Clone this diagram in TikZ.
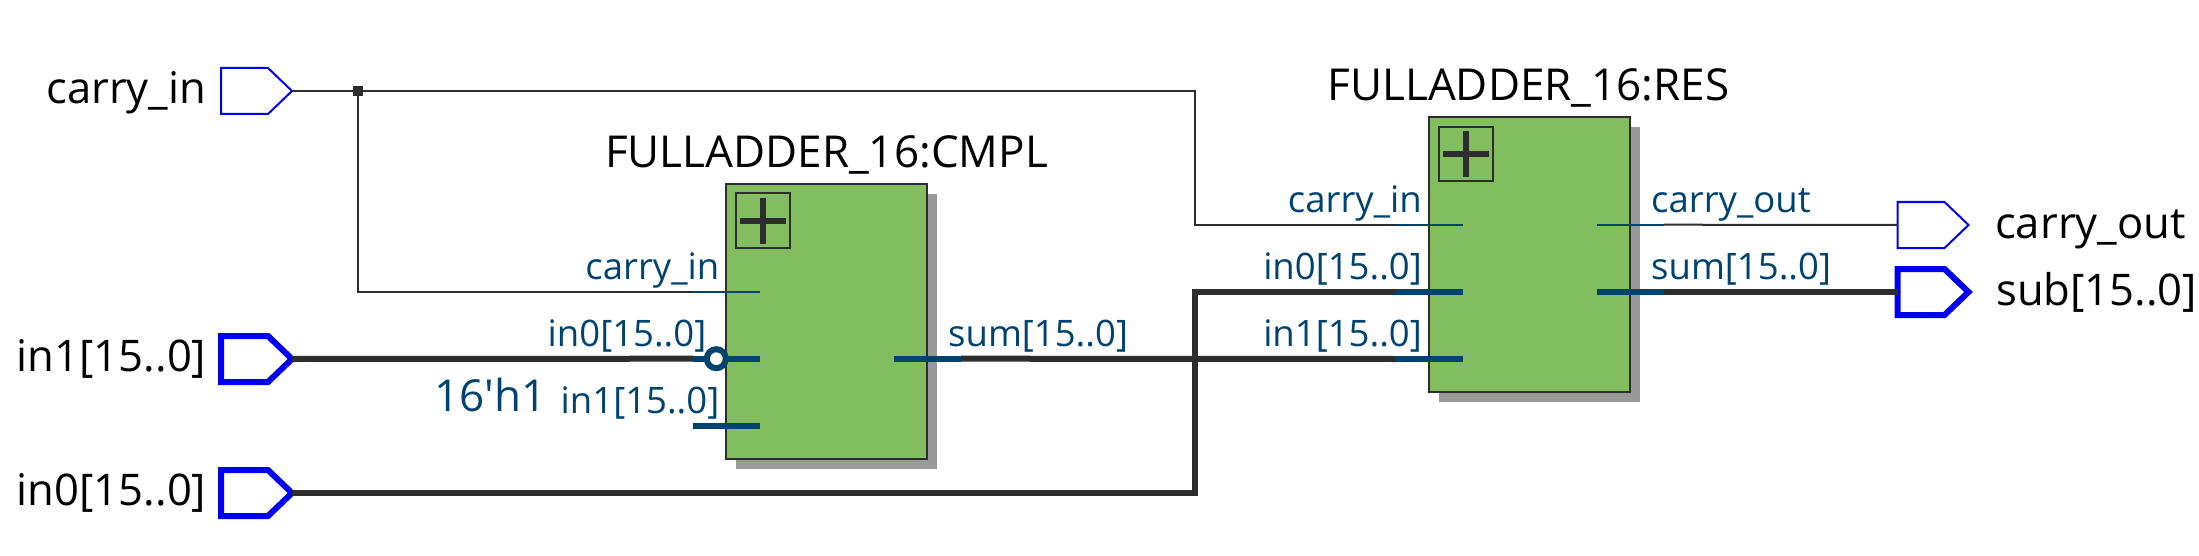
\documentclass[tikz,border=0pt]{standalone}
\usepackage{fontspec}
\setmainfont{Open Sans}
\newfontfamily\constf{Open Sans}
\definecolor{wire}{HTML}{2D2D2D}
\definecolor{pinc}{HTML}{004370}
\definecolor{blockg}{HTML}{82BE60}
\definecolor{shad}{HTML}{999999}
\definecolor{portb}{HTML}{0000F0}
\newcommand{\portshape}[4]{% name, x, y, style
  \draw[#4] (#2,#3-23) -- (#2+47,#3-23) -- (#2+71,#3) -- (#2+47,#3+23) -- (#2,#3+23) -- cycle;
  \coordinate (#1L) at (#2,#3);
  \coordinate (#1R) at (#2+71,#3);
}
\newcommand{\blockshape}[5]{% name, left, top, right, bottom
  \fill[shad] (#2+10,#3+10) rectangle (#4+10,#5+10);
  \node[blockbox,minimum width=#4-#2,minimum height=#5-#3,anchor=north west] (#1) at (#2,#3) {};
  \draw[wire,line width=2pt,fill=none] (#2+9.7,#3+9.7) rectangle (#2+64.3,#3+64.3);
  \fill[wire] (#2+14,#3+34) rectangle (#2+60,#3+40);
  \fill[wire] (#2+34,#3+14) rectangle (#2+40,#3+60);
}
\tikzset{
  x=1pt,y=-1pt,
  blockbox/.style={draw=wire,fill=blockg,line width=2pt,inner sep=0pt,outer sep=0pt},
  thinport/.style={draw=portb,line width=2pt,fill=white,line join=miter},
  busport/.style={draw=portb,line width=6pt,fill=white,line join=miter},
  thinwire/.style={draw=wire,line width=2pt},
  buswire/.style={draw=wire,line width=6pt},
  thinpin/.style={draw=pinc,line width=2pt},
  buspin/.style={draw=pinc,line width=6pt},
  extlabel/.style={font=\fontsize{43.6}{46}\selectfont,text=black,inner sep=0pt},
  titlelabel/.style={font=\fontsize{44}{46}\selectfont,text=black,inner sep=0pt,anchor=base west},
  pinlabel/.style={font=\fontsize{36.5}{40}\selectfont,text=pinc,inner sep=0pt},
  constlabel/.style={font=\constf\fontsize{44}{48}\selectfont,text=pinc,inner sep=0pt,anchor=base west},
}
\begin{document}
\begin{tikzpicture}
\useasboundingbox (0,0) rectangle (2199,556);
% ports
\portshape{pci}{221}{91}{thinport}
\portshape{pa}{221}{359}{busport}
\portshape{pb}{221}{493}{busport}
\portshape{pco}{1897.5}{225}{thinport}
\portshape{ps}{1897.5}{292}{busport}
% points
\coordinate (jn) at (358,91);
\coordinate (jt) at (1195,91);
\coordinate (cCi) at (693.3,291.7);
\coordinate (cCiE) at (760,291.7);
\coordinate (cA) at (693.3,358.7);
\coordinate (cAE) at (760,358.7);
\coordinate (cB) at (693.3,425.7);
\coordinate (cBE) at (760,425.7);
\coordinate (cS) at (894,358.7);
\coordinate (cSE) at (961,358.7);
\coordinate (rCi) at (1396,224.7);
\coordinate (rCiE) at (1463,224.7);
\coordinate (rA) at (1396,292);
\coordinate (rAE) at (1463,292);
\coordinate (rB) at (1396,359);
\coordinate (rBE) at (1463,359);
\coordinate (rC) at (1597,224.7);
\coordinate (rCE) at (1664,224.7);
\coordinate (rS) at (1597,292);
\coordinate (rSE) at (1664,292);
\coordinate (bub) at (716.3,358.7);
% blocks
\blockshape{cmpl}{726}{183.7}{927.3}{459.3}
\blockshape{res}{1429}{117}{1630.3}{392}
% wires
\draw[thinwire] (pciR) -- (jt) -- (1195,224.7) -- (rCi);
\draw[thinwire] (jn) -- (358,291.7) -- (cCi);
\draw[buswire] (paR) -- (cA);
\draw[buswire] (pbR) -- (1195,493) -- (1195,292) -- (rA);
\draw[buswire] (cSE) -- (rB);
\draw[thinwire] (rCE) -- (pcoL);
\draw[buswire] (rSE) -- (psL);
\fill[wire] (353,86) rectangle (363,96);
% pins
\draw[thinpin] (cCi) -- (cCiE);
\draw[buspin] (cA) -- (cAE);
\draw[buspin] (cB) -- (cBE);
\draw[buspin] (cS) -- (cSE);
\draw[thinpin] (rCi) -- (rCiE);
\draw[buspin] (rA) -- (rAE);
\draw[buspin] (rB) -- (rBE);
\draw[thinpin] (rC) -- (rCE);
\draw[buspin] (rS) -- (rSE);
\draw[draw=pinc,line width=6pt,fill=white] (bub) circle (9.5);
% external labels
\node[extlabel,anchor=base east] (lci) at (206.5,103.7) {carry\_in};
\node[extlabel,anchor=base east] (la) at (206.5,371) {in1[15..0]};
\node[extlabel,anchor=base east] (lb) at (206.5,505) {in0[15..0]};
\node[extlabel,anchor=base west] (lco) at (1995,238) {carry\_out};
\node[extlabel,anchor=base west] (ls) at (1996,305) {sub[15..0]};
% titles
\node[titlelabel] (tc) at (605,167.3) {FULLADDER\_16:CMPL};
\node[titlelabel] (tr) at (1327.5,100.7) {FULLADDER\_16:RES};
% pin labels
\node[pinlabel,anchor=base east] (l1) at (719.5,279.5) {carry\_in};
\node[pinlabel,anchor=base east] (l2) at (706.5,346.5) {in0[15..0]};
\node[pinlabel,anchor=base east] (l3) at (719.5,413.5) {in1[15..0]};
\node[constlabel] (l4) at (434,411) {16'h1};
\node[pinlabel,anchor=base west] (l5) at (948,346.5) {sum[15..0]};
\node[pinlabel,anchor=base east] (l6) at (1422,212.5) {carry\_in};
\node[pinlabel,anchor=base east] (l7) at (1422,279.5) {in0[15..0]};
\node[pinlabel,anchor=base east] (l8) at (1422,346.5) {in1[15..0]};
\node[pinlabel,anchor=base west] (l9) at (1651,212.5) {carry\_out};
\node[pinlabel,anchor=base west] (l10) at (1651,279.5) {sum[15..0]};
\end{tikzpicture}
\end{document}
